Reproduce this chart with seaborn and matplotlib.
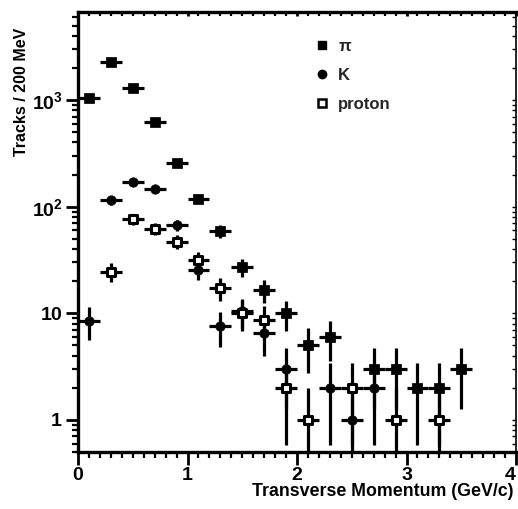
import numpy as np
import pandas as pd
import matplotlib
matplotlib.use("Agg")
import matplotlib.pyplot as plt
from matplotlib.lines import Line2D
from matplotlib.ticker import FixedLocator, MultipleLocator, FixedFormatter, LogLocator, NullFormatter
import seaborn as sns

# ---- data ----
pt_pion = [0.1, 0.3, 0.5, 0.7, 0.9, 1.1, 1.3, 1.5, 1.7, 1.9, 2.1, 2.3, 2.7, 2.9, 3.1, 3.3, 3.5]
n_pion = [1050, 2300, 1300, 620, 258, 118, 59, 27, 16.5, 10, 5, 6, 3, 3, 2, 2, 3]

pt_kaon = [0.1, 0.3, 0.5, 0.7, 0.9, 1.1, 1.3, 1.5, 1.7, 1.9, 2.3, 2.5, 2.7]
n_kaon = [8.5, 115, 169, 145, 67, 25.5, 7.6, 10.5, 6.5, 3, 2, 1, 2]

pt_proton = [0.3, 0.5, 0.7, 0.9, 1.1, 1.3, 1.5, 1.7, 1.9, 2.1, 2.5, 2.9, 3.3]
n_proton = [24.6, 76, 62, 47, 31.6, 17.3, 10, 8.7, 2, 1, 2, 1, 1]

bin_half_width = 0.1
species_labels = ["π", "K", "proton"]
ytick_vals = [1, 10, 100, 1000]
ytick_labels = [r"$1$", r"$10$", r"$10^{2}$", r"$10^{3}$"]
xtick_vals = [0, 1, 2, 3, 4]
xtick_labels = ["0", "1", "2", "3", "4"]

sns.set_theme(style="ticks")
plt.rcParams["font.family"] = ["Liberation Sans", "DejaVu Sans"]
plt.rcParams["font.weight"] = "bold"
plt.rcParams["mathtext.fontset"] = "custom"
plt.rcParams["mathtext.rm"] = "Liberation Sans:bold"
plt.rcParams["mathtext.it"] = "Liberation Sans:bold"
plt.rcParams["mathtext.bf"] = "Liberation Sans:bold"

fig = plt.figure(figsize=(5.18, 5.09), dpi=100)
ax = fig.add_axes([78 / 518, (509 - 452) / 509, 438 / 518, 440 / 509])

lw = 2.3
series = [
    (pt_pion, n_pion, dict(marker="s", color="black", edgecolor="black", s=42)),
    (pt_kaon, n_kaon, dict(marker="o", color="black", edgecolor="black", s=46)),
    (pt_proton, n_proton, dict(marker="s", facecolor="white", edgecolor="black", linewidth=2.2, s=36)),
]
for x, y, kw in series:
    y = np.asarray(y, dtype=float)
    ax.errorbar(x, y, xerr=bin_half_width, yerr=np.sqrt(y), fmt="none",
                ecolor="black", elinewidth=lw, capsize=0, zorder=2)
for x, y, kw in series:
    df = pd.DataFrame({"pt": x, "n": y})
    sns.scatterplot(data=df, x="pt", y="n", ax=ax, zorder=3, **kw)

ax.set_yscale("log")
ax.set_xlim(0, 4)
ax.set_ylim(0.5, 6700)

ax.yaxis.set_major_locator(FixedLocator(ytick_vals))
ax.yaxis.set_major_formatter(FixedFormatter(ytick_labels))
ax.yaxis.set_minor_locator(LogLocator(base=10, subs=np.arange(2, 10), numticks=20))
ax.yaxis.set_minor_formatter(NullFormatter())
ax.xaxis.set_major_locator(FixedLocator(xtick_vals))
ax.xaxis.set_major_formatter(FixedFormatter(xtick_labels))
ax.xaxis.set_minor_locator(MultipleLocator(0.1))

ax.tick_params(axis="both", which="major", direction="out", length=9, width=2.0,
               labelsize=14, color="black", labelcolor="black", pad=2)
ax.tick_params(axis="both", which="minor", direction="out", length=4, width=1.6, color="black")
ax.tick_params(axis="x", which="both", top=True, labeltop=False)
ax.tick_params(axis="y", which="both", right=True, labelright=False)
# short inward ticks on top and right
ax.tick_params(axis="x", which="major", top=True)
for t in ax.xaxis.get_major_ticks() + ax.xaxis.get_minor_ticks():
    t.tick2line.set_markersize(3)
    t.tick2line.set_marker(3)  # TICKDOWN-like inward
for t in ax.yaxis.get_major_ticks() + ax.yaxis.get_minor_ticks():
    t.tick2line.set_markersize(3)
    t.tick2line.set_markeredgewidth(1.0)
    t.tick2line.set_marker(0)  # TICKLEFT, inward for right side

# keep the "4" label inside the figure
xl = ax.get_xticklabels()
xl[-1].set_horizontalalignment("right")

for side in ["left", "bottom", "top"]:
    ax.spines[side].set_linewidth(2.4)
    ax.spines[side].set_color("black")
ax.spines["right"].set_linewidth(1.2)
ax.spines["right"].set_color("black")

ax.set_xlabel("Transverse Momentum (GeV/c)", fontsize=12.8, fontweight="bold", color="black")
ax.xaxis.set_label_coords((513 - 78) / 438, -0.07)
ax.xaxis.label.set_horizontalalignment("right")
ax.set_ylabel("Tracks / 200 MeV", fontsize=11.5, fontweight="bold", color="black")
ax.yaxis.set_label_coords(-0.112, (452 - 92) / 440)

handles = [
    Line2D([], [], marker="s", color="black", linestyle="none", markersize=6),
    Line2D([], [], marker="o", color="black", linestyle="none", markersize=6),
    Line2D([], [], marker="s", markerfacecolor="white", markeredgecolor="black",
           markeredgewidth=1.8, linestyle="none", markersize=6),
]
ax.legend(handles, species_labels, loc="upper left",
          bbox_to_anchor=((300 - 78) / 438, (452 - 24) / 440), frameon=False,
          handlelength=0.8, handletextpad=0.6, labelspacing=0.85,
          prop={"family": ["Liberation Sans", "DejaVu Sans"], "weight": "bold", "size": 12})

fig.savefig("out.png", dpi=100)
